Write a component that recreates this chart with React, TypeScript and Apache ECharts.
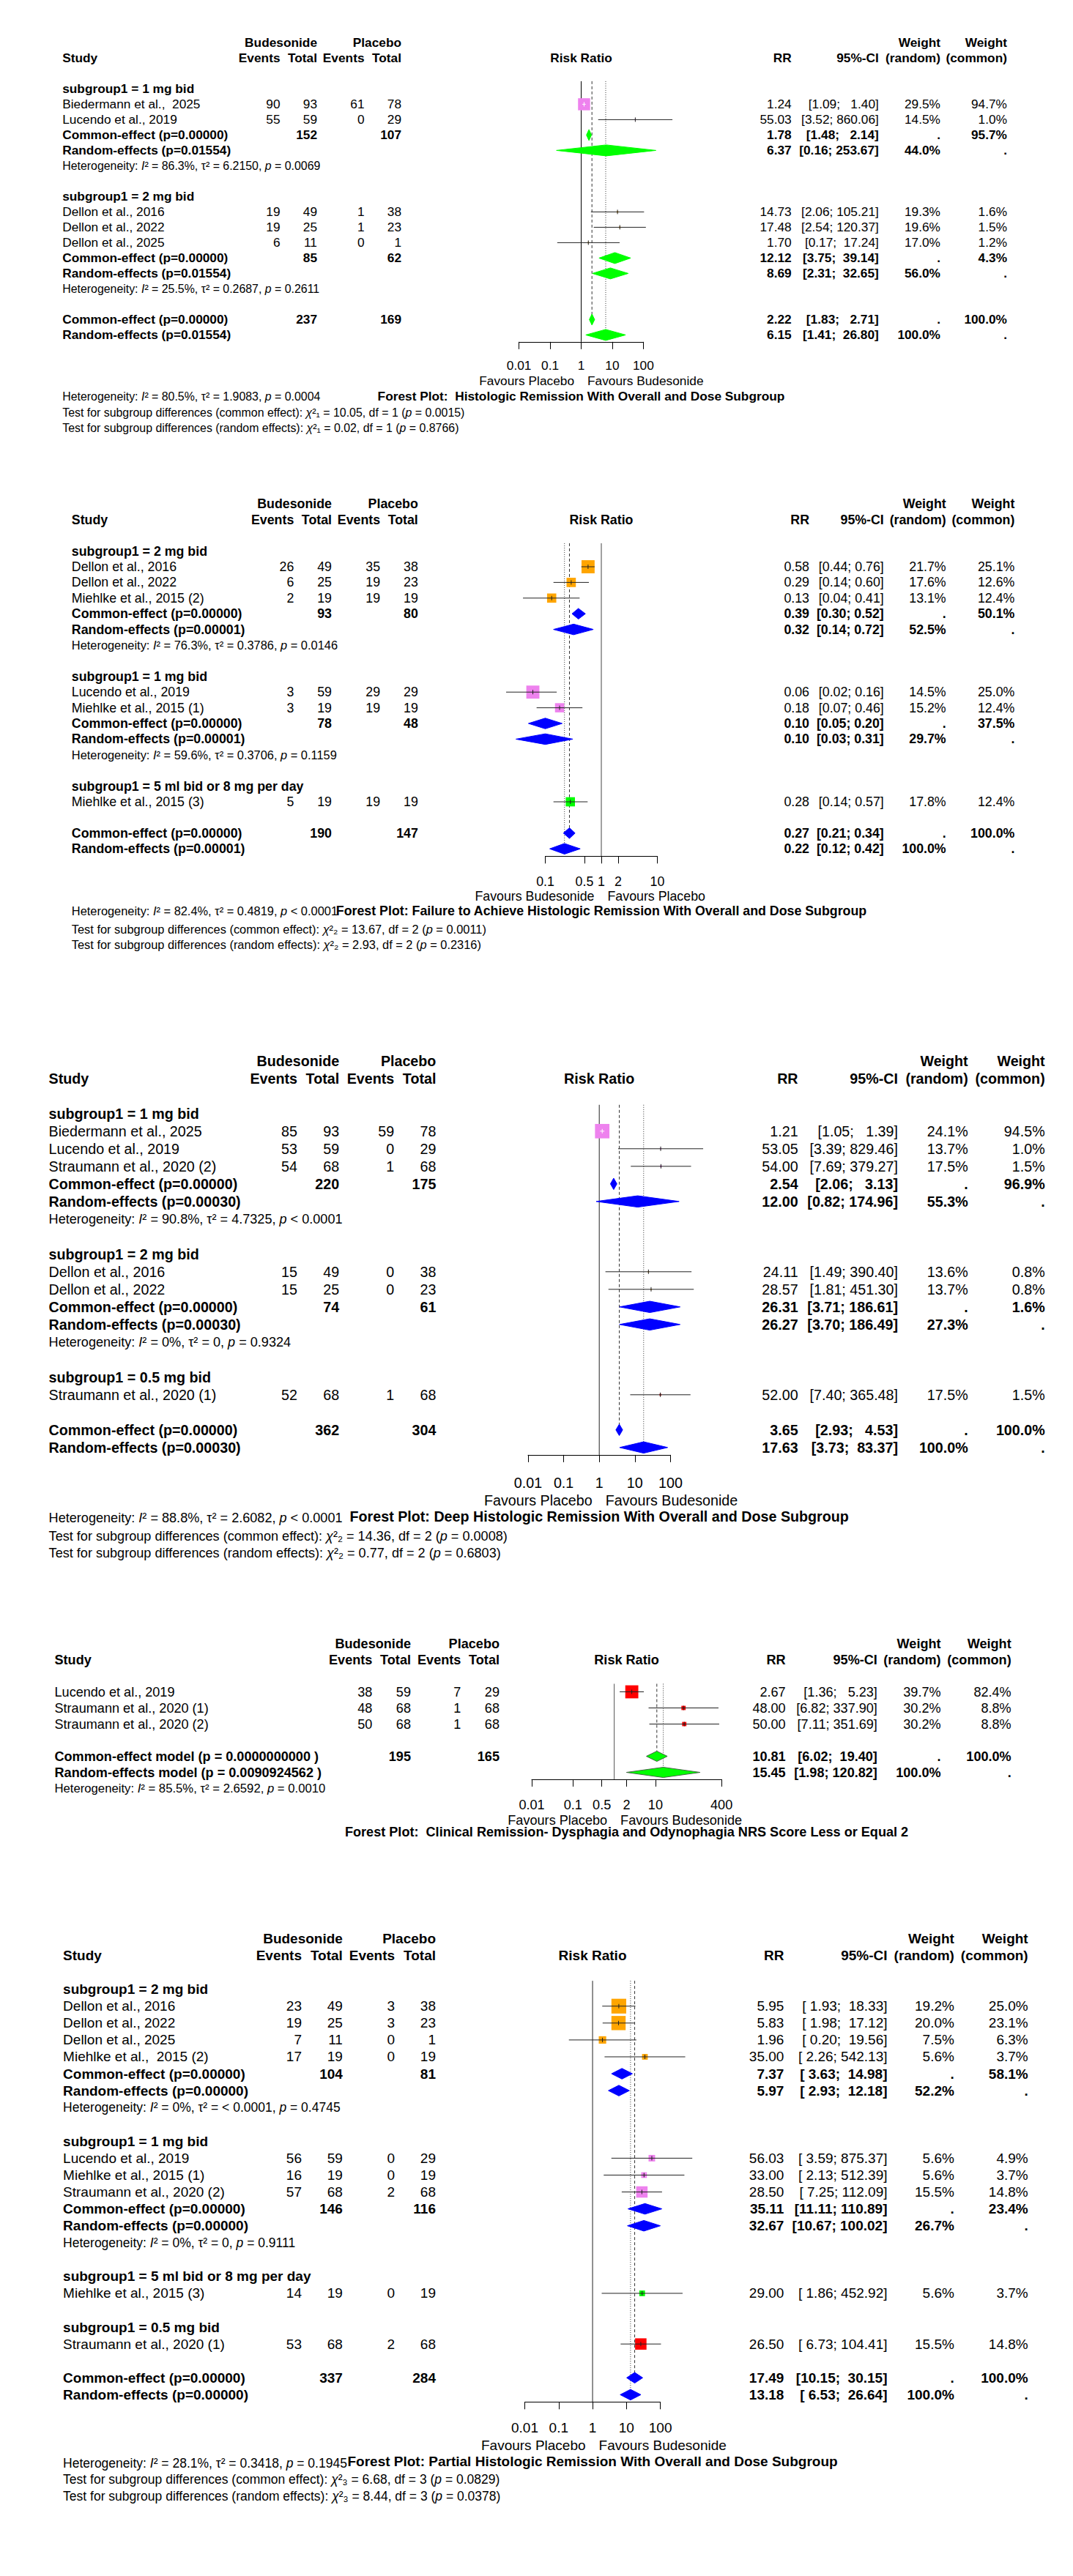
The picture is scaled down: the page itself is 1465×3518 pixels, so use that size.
import React, { useEffect, useRef } from 'react';
import * as echarts from 'echarts';

const FONT = '"Liberation Sans", Arial, Helvetica, sans-serif';
const N = null;

const headTop = ['Budesonide', 'Placebo', 'Weight', 'Weight'];
const headBottom = ['Study', 'Events', 'Total', 'Events', 'Total', 'Risk Ratio', 'RR', '95%-CI', '(random)', '(common)'];
const groupColors: any = { v: '#EE82EE', o: '#FFA500', g: '#00FF00', r: '#FF0000' };

// ================= Plot 1 =================
const p1Title = 'Forest Plot:  Histologic Remission With Overall and Dose Subgroup';
const p1Kind = ['sub', 'study', 'study', 'common', 'random', 'het', 'blank', 'sub', 'study', 'study', 'study', 'common', 'random', 'het', 'blank', 'common', 'random'];
const p1Label = [
  'subgroup1 = 1 mg bid', 'Biedermann et al.,  2025', 'Lucendo et al., 2019',
  'Common-effect (p=0.00000)', 'Random-effects (p=0.01554)',
  'Heterogeneity: I² = 86.3%, τ² = 6.2150, p = 0.0069', '',
  'subgroup1 = 2 mg bid', 'Dellon et al., 2016', 'Dellon et al., 2022', 'Dellon et al., 2025',
  'Common-effect (p=0.00000)', 'Random-effects (p=0.01554)',
  'Heterogeneity: I² = 25.5%, τ² = 0.2687, p = 0.2611', '',
  'Common-effect (p=0.00000)', 'Random-effects (p=0.01554)',
];
const p1EvB = [N, 90, 55, N, N, N, N, N, 19, 19, 6, N, N, N, N, N, N];
const p1TotB = [N, 93, 59, 152, N, N, N, N, 49, 25, 11, 85, N, N, N, 237, N];
const p1EvP = [N, 61, 0, N, N, N, N, N, 1, 1, 0, N, N, N, N, N, N];
const p1TotP = [N, 78, 29, 107, N, N, N, N, 38, 23, 1, 62, N, N, N, 169, N];
const p1RR = [N, 1.24, 55.03, 1.78, 6.37, N, N, N, 14.73, 17.48, 1.70, 12.12, 8.69, N, N, 2.22, 6.15];
const p1Lo = [N, 1.09, 3.52, 1.48, 0.16, N, N, N, 2.06, 2.54, 0.17, 3.75, 2.31, N, N, 1.83, 1.41];
const p1Hi = [N, 1.40, 860.06, 2.14, 253.67, N, N, N, 105.21, 120.37, 17.24, 39.14, 32.65, N, N, 2.71, 26.80];
const p1WRand = [N, 29.5, 14.5, N, 44.0, N, N, N, 19.3, 19.6, 17.0, N, 56.0, N, N, N, 100.0];
const p1WComm = [N, 94.7, 1.0, 95.7, N, N, N, N, 1.6, 1.5, 1.2, 4.3, N, N, N, 100.0, N];
const p1Group = ['', 'v', 'v', '', '', '', '', '', 'o', 'o', 'o', '', '', '', '', '', ''];
const p1Ticks = [0.01, 0.1, 1, 10, 100];
const p1TickLabels = ['0.01', '0.1', '1', '10', '100'];
const p1Favours = ['Favours Placebo', 'Favours Budesonide'];
const p1Footer = [
  'Heterogeneity: I² = 80.5%, τ² = 1.9083, p = 0.0004',
  'Test for subgroup differences (common effect): χ²₁ = 10.05, df = 1 (p = 0.0015)',
  'Test for subgroup differences (random effects): χ²₁ = 0.02, df = 1 (p = 0.8766)',
];

// ================= Plot 2 =================
const p2Title = 'Forest Plot: Failure to Achieve Histologic Remission With Overall and Dose Subgroup';
const p2Kind = ['sub', 'study', 'study', 'study', 'common', 'random', 'het', 'blank', 'sub', 'study', 'study', 'common', 'random', 'het', 'blank', 'sub', 'study', 'blank', 'common', 'random'];
const p2Label = [
  'subgroup1 = 2 mg bid', 'Dellon et al., 2016', 'Dellon et al., 2022', 'Miehlke et al., 2015 (2)',
  'Common-effect (p=0.00000)', 'Random-effects (p=0.00001)',
  'Heterogeneity: I² = 76.3%, τ² = 0.3786, p = 0.0146', '',
  'subgroup1 = 1 mg bid', 'Lucendo et al., 2019', 'Miehlke et al., 2015 (1)',
  'Common-effect (p=0.00000)', 'Random-effects (p=0.00001)',
  'Heterogeneity: I² = 59.6%, τ² = 0.3706, p = 0.1159', '',
  'subgroup1 = 5 ml bid or 8 mg per day', 'Miehlke et al., 2015 (3)', '',
  'Common-effect (p=0.00000)', 'Random-effects (p=0.00001)',
];
const p2EvB = [N, 26, 6, 2, N, N, N, N, N, 3, 3, N, N, N, N, N, 5, N, N, N];
const p2TotB = [N, 49, 25, 19, 93, N, N, N, N, 59, 19, 78, N, N, N, N, 19, N, 190, N];
const p2EvP = [N, 35, 19, 19, N, N, N, N, N, 29, 19, N, N, N, N, N, 19, N, N, N];
const p2TotP = [N, 38, 23, 19, 80, N, N, N, N, 29, 19, 48, N, N, N, N, 19, N, 147, N];
const p2RR = [N, 0.58, 0.29, 0.13, 0.39, 0.32, N, N, N, 0.06, 0.18, 0.10, 0.10, N, N, N, 0.28, N, 0.27, 0.22];
const p2Lo = [N, 0.44, 0.14, 0.04, 0.30, 0.14, N, N, N, 0.02, 0.07, 0.05, 0.03, N, N, N, 0.14, N, 0.21, 0.12];
const p2Hi = [N, 0.76, 0.60, 0.41, 0.52, 0.72, N, N, N, 0.16, 0.46, 0.20, 0.31, N, N, N, 0.57, N, 0.34, 0.42];
const p2WRand = [N, 21.7, 17.6, 13.1, N, 52.5, N, N, N, 14.5, 15.2, N, 29.7, N, N, N, 17.8, N, N, 100.0];
const p2WComm = [N, 25.1, 12.6, 12.4, 50.1, N, N, N, N, 25.0, 12.4, 37.5, N, N, N, N, 12.4, N, 100.0, N];
const p2Group = ['', 'o', 'o', 'o', '', '', '', '', '', 'v', 'v', '', '', '', '', '', 'g', '', '', ''];
const p2Ticks = [0.1, 0.5, 1, 2, 10];
const p2TickLabels = ['0.1', '0.5', '1', '2', '10'];
const p2Favours = ['Favours Budesonide', 'Favours Placebo'];
const p2Footer = [
  'Heterogeneity: I² = 82.4%, τ² = 0.4819, p < 0.0001',
  'Test for subgroup differences (common effect): χ²₂ = 13.67, df = 2 (p = 0.0011)',
  'Test for subgroup differences (random effects): χ²₂ = 2.93, df = 2 (p = 0.2316)',
];

// ================= Plot 3 =================
const p3Title = 'Forest Plot: Deep Histologic Remission With Overall and Dose Subgroup';
const p3Kind = ['sub', 'study', 'study', 'study', 'common', 'random', 'het', 'blank', 'sub', 'study', 'study', 'common', 'random', 'het', 'blank', 'sub', 'study', 'blank', 'common', 'random'];
const p3Label = [
  'subgroup1 = 1 mg bid', 'Biedermann et al., 2025', 'Lucendo et al., 2019', 'Straumann et al., 2020 (2)',
  'Common-effect (p=0.00000)', 'Random-effects (p=0.00030)',
  'Heterogeneity: I² = 90.8%, τ² = 4.7325, p < 0.0001', '',
  'subgroup1 = 2 mg bid', 'Dellon et al., 2016', 'Dellon et al., 2022',
  'Common-effect (p=0.00000)', 'Random-effects (p=0.00030)',
  'Heterogeneity: I² = 0%, τ² = 0, p = 0.9324', '',
  'subgroup1 = 0.5 mg bid', 'Straumann et al., 2020 (1)', '',
  'Common-effect (p=0.00000)', 'Random-effects (p=0.00030)',
];
const p3EvB = [N, 85, 53, 54, N, N, N, N, N, 15, 15, N, N, N, N, N, 52, N, N, N];
const p3TotB = [N, 93, 59, 68, 220, N, N, N, N, 49, 25, 74, N, N, N, N, 68, N, 362, N];
const p3EvP = [N, 59, 0, 1, N, N, N, N, N, 0, 0, N, N, N, N, N, 1, N, N, N];
const p3TotP = [N, 78, 29, 68, 175, N, N, N, N, 38, 23, 61, N, N, N, N, 68, N, 304, N];
const p3RR = [N, 1.21, 53.05, 54.00, 2.54, 12.00, N, N, N, 24.11, 28.57, 26.31, 26.27, N, N, N, 52.00, N, 3.65, 17.63];
const p3Lo = [N, 1.05, 3.39, 7.69, 2.06, 0.82, N, N, N, 1.49, 1.81, 3.71, 3.70, N, N, N, 7.40, N, 2.93, 3.73];
const p3Hi = [N, 1.39, 829.46, 379.27, 3.13, 174.96, N, N, N, 390.40, 451.30, 186.61, 186.49, N, N, N, 365.48, N, 4.53, 83.37];
const p3WRand = [N, 24.1, 13.7, 17.5, N, 55.3, N, N, N, 13.6, 13.7, N, 27.3, N, N, N, 17.5, N, N, 100.0];
const p3WComm = [N, 94.5, 1.0, 1.5, 96.9, N, N, N, N, 0.8, 0.8, 1.6, N, N, N, N, 1.5, N, 100.0, N];
const p3Group = ['', 'v', 'v', 'v', '', '', '', '', '', 'o', 'o', '', '', '', '', '', 'r', '', '', ''];
const p3Ticks = [0.01, 0.1, 1, 10, 100];
const p3TickLabels = ['0.01', '0.1', '1', '10', '100'];
const p3Favours = ['Favours Placebo', 'Favours Budesonide'];
const p3Footer = [
  'Heterogeneity: I² = 88.8%, τ² = 2.6082, p < 0.0001',
  'Test for subgroup differences (common effect): χ²₂ = 14.36, df = 2 (p = 0.0008)',
  'Test for subgroup differences (random effects): χ²₂ = 0.77, df = 2 (p = 0.6803)',
];

// ================= Plot 4 =================
const p4Title = 'Forest Plot:  Clinical Remission- Dysphagia and Odynophagia NRS Score Less or Equal 2';
const p4Kind = ['study', 'study', 'study', 'blank', 'common', 'random', 'het'];
const p4Label = [
  'Lucendo et al., 2019', 'Straumann et al., 2020 (1)', 'Straumann et al., 2020 (2)', '',
  'Common-effect model (p = 0.0000000000 )', 'Random-effects model (p = 0.0090924562 )',
  'Heterogeneity: I² = 85.5%, τ² = 2.6592, p = 0.0010',
];
const p4EvB = [38, 48, 50, N, N, N, N];
const p4TotB = [59, 68, 68, N, 195, N, N];
const p4EvP = [7, 1, 1, N, N, N, N];
const p4TotP = [29, 68, 68, N, 165, N, N];
const p4RR = [2.67, 48.00, 50.00, N, 10.81, 15.45, N];
const p4Lo = [1.36, 6.82, 7.11, N, 6.02, 1.98, N];
const p4Hi = [5.23, 337.90, 351.69, N, 19.40, 120.82, N];
const p4WRand = [39.7, 30.2, 30.2, N, N, 100.0, N];
const p4WComm = [82.4, 8.8, 8.8, N, 100.0, N, N];
const p4Group = ['r', 'r', 'r', '', '', '', ''];
const p4Ticks = [0.01, 0.1, 0.5, 2, 10, 400];
const p4TickLabels = ['0.01', '0.1', '0.5', '2', '10', '400'];
const p4Favours = ['Favours Placebo', 'Favours Budesonide'];
const p4Footer: string[] = [];

// ================= Plot 5 =================
const p5Title = 'Forest Plot: Partial Histologic Remission With Overall and Dose Subgroup';
const p5Kind = ['sub', 'study', 'study', 'study', 'study', 'common', 'random', 'het', 'blank', 'sub', 'study', 'study', 'study', 'common', 'random', 'het', 'blank', 'sub', 'study', 'blank', 'sub', 'study', 'blank', 'common', 'random'];
const p5Label = [
  'subgroup1 = 2 mg bid', 'Dellon et al., 2016', 'Dellon et al., 2022', 'Dellon et al., 2025', 'Miehlke et al.,  2015 (2)',
  'Common-effect (p=0.00000)', 'Random-effects (p=0.00000)',
  'Heterogeneity: I² = 0%, τ² = < 0.0001, p = 0.4745', '',
  'subgroup1 = 1 mg bid', 'Lucendo et al., 2019', 'Miehlke et al., 2015 (1)', 'Straumann et al., 2020 (2)',
  'Common-effect (p=0.00000)', 'Random-effects (p=0.00000)',
  'Heterogeneity: I² = 0%, τ² = 0, p = 0.9111', '',
  'subgroup1 = 5 ml bid or 8 mg per day', 'Miehlke et al., 2015 (3)', '',
  'subgroup1 = 0.5 mg bid', 'Straumann et al., 2020 (1)', '',
  'Common-effect (p=0.00000)', 'Random-effects (p=0.00000)',
];
const p5EvB = [N, 23, 19, 7, 17, N, N, N, N, N, 56, 16, 57, N, N, N, N, N, 14, N, N, 53, N, N, N];
const p5TotB = [N, 49, 25, 11, 19, 104, N, N, N, N, 59, 19, 68, 146, N, N, N, N, 19, N, N, 68, N, 337, N];
const p5EvP = [N, 3, 3, 0, 0, N, N, N, N, N, 0, 0, 2, N, N, N, N, N, 0, N, N, 2, N, N, N];
const p5TotP = [N, 38, 23, 1, 19, 81, N, N, N, N, 29, 19, 68, 116, N, N, N, N, 19, N, N, 68, N, 284, N];
const p5RR = [N, 5.95, 5.83, 1.96, 35.00, 7.37, 5.97, N, N, N, 56.03, 33.00, 28.50, 35.11, 32.67, N, N, N, 29.00, N, N, 26.50, N, 17.49, 13.18];
const p5Lo = [N, 1.93, 1.98, 0.20, 2.26, 3.63, 2.93, N, N, N, 3.59, 2.13, 7.25, 11.11, 10.67, N, N, N, 1.86, N, N, 6.73, N, 10.15, 6.53];
const p5Hi = [N, 18.33, 17.12, 19.56, 542.13, 14.98, 12.18, N, N, N, 875.37, 512.39, 112.09, 110.89, 100.02, N, N, N, 452.92, N, N, 104.41, N, 30.15, 26.64];
const p5WRand = [N, 19.2, 20.0, 7.5, 5.6, N, 52.2, N, N, N, 5.6, 5.6, 15.5, N, 26.7, N, N, N, 5.6, N, N, 15.5, N, N, 100.0];
const p5WComm = [N, 25.0, 23.1, 6.3, 3.7, 58.1, N, N, N, N, 4.9, 3.7, 14.8, 23.4, N, N, N, N, 3.7, N, N, 14.8, N, 100.0, N];
const p5Group = ['', 'o', 'o', 'o', 'o', '', '', '', '', '', 'v', 'v', 'v', '', '', '', '', '', 'g', '', '', 'r', '', '', ''];
const p5Ticks = [0.01, 0.1, 1, 10, 100];
const p5TickLabels = ['0.01', '0.1', '1', '10', '100'];
const p5Favours = ['Favours Placebo', 'Favours Budesonide'];
const p5Footer = [
  'Heterogeneity: I² = 28.1%, τ² = 0.3418, p = 0.1945',
  'Test for subgroup differences (common effect): χ²₃ = 6.68, df = 3 (p = 0.0829)',
  'Test for subgroup differences (random effects): χ²₃ = 8.44, df = 3 (p = 0.0378)',
];

const plots: any[] = [
  { kind: p1Kind, label: p1Label, evB: p1EvB, totB: p1TotB, evP: p1EvP, totP: p1TotP, rr: p1RR, lo: p1Lo, hi: p1Hi, wr: p1WRand, wc: p1WComm, group: p1Group, ticks: p1Ticks, tickLabels: p1TickLabels, favours: p1Favours, footer: p1Footer, title: p1Title },
  { kind: p2Kind, label: p2Label, evB: p2EvB, totB: p2TotB, evP: p2EvP, totP: p2TotP, rr: p2RR, lo: p2Lo, hi: p2Hi, wr: p2WRand, wc: p2WComm, group: p2Group, ticks: p2Ticks, tickLabels: p2TickLabels, favours: p2Favours, footer: p2Footer, title: p2Title },
  { kind: p3Kind, label: p3Label, evB: p3EvB, totB: p3TotB, evP: p3EvP, totP: p3TotP, rr: p3RR, lo: p3Lo, hi: p3Hi, wr: p3WRand, wc: p3WComm, group: p3Group, ticks: p3Ticks, tickLabels: p3TickLabels, favours: p3Favours, footer: p3Footer, title: p3Title },
  { kind: p4Kind, label: p4Label, evB: p4EvB, totB: p4TotB, evP: p4EvP, totP: p4TotP, rr: p4RR, lo: p4Lo, hi: p4Hi, wr: p4WRand, wc: p4WComm, group: p4Group, ticks: p4Ticks, tickLabels: p4TickLabels, favours: p4Favours, footer: p4Footer, title: p4Title },
  { kind: p5Kind, label: p5Label, evB: p5EvB, totB: p5TotB, evP: p5EvP, totP: p5TotP, rr: p5RR, lo: p5Lo, hi: p5Hi, wr: p5WRand, wc: p5WComm, group: p5Group, ticks: p5Ticks, tickLabels: p5TickLabels, favours: p5Favours, footer: p5Footer, title: p5Title },
];

// layout (pixels)
const layouts: any[] = [
  { row0: 121.4, rowH: 21.0, fs: 17.3, left: 708.6, width: 169.8, min: 0.01, max: 100, axisRow: 16.45,
    cols: { study: 85.2, evB: 382.5, totB: 433, evP: 497.5, totP: 548, rr: 1080.7, ci: 1199.8, wr: 1284, wc: 1375 },
    boxMax: 16.5, diamondH: 15, labelMargin: 23.5, favOff: 53.2, titleOff: 74.2, footOffs: [74.2, 97, 117.2],
    refColor: '#000', dFill: '#00FF00', dStroke: '#00FF00' },
  { row0: 752.6, rowH: 21.4, fs: 17.8, left: 744.5, width: 153, min: 0.1, max: 10, axisRow: 19.47,
    cols: { study: 97.8, evB: 401.3, totB: 453, evP: 519.1, totP: 570.8, rr: 1105, ci: 1206.8, wr: 1291.7, wc: 1385.4 },
    boxMax: 17.9, diamondH: 14.5, labelMargin: 25.3, favOff: 55.1, titleOff: 75, footOffs: [75, 99.5, 121],
    refColor: '#444', dFill: '#0000FF', dStroke: '#0000FF' },
  { row0: 1520.8, rowH: 24.0, fs: 19.7, left: 721, width: 194.4, min: 0.01, max: 100, axisRow: 19.42,
    cols: { study: 66.6, evB: 406, totB: 463.2, evP: 538.2, totP: 595.4, rr: 1089.6, ci: 1226, wr: 1321.7, wc: 1426.7 },
    boxMax: 19.7, diamondH: 15.5, labelMargin: 28.2, favOff: 61.7, titleOff: 84.5, footOffs: [86, 110.8, 134.4],
    refColor: '#222', dFill: '#0000FF', dStroke: '#0000FF' },
  { row0: 2310.5, rowH: 22.0, fs: 18.1, left: 726, width: 259.1, min: 0.01, max: 400, axisRow: 5.43,
    cols: { study: 74.5, evB: 508.4, totB: 561, evP: 629.4, totP: 682, rr: 1072.7, ci: 1197.9, wr: 1284.6, wc: 1380.7 },
    boxMax: 17.8, diamondH: 14, labelMargin: 26, favOff: 56, titleOff: 72, footOffs: [],
    refColor: '#555', dFill: '#00FF00', dStroke: '#446644' },
  { row0: 2716.7, rowH: 23.07, fs: 19.0, left: 716.5, width: 185.1, min: 0.01, max: 100, axisRow: 24.43,
    cols: { study: 86.1, evB: 412, totB: 467.9, evP: 539.1, totP: 595, rr: 1070.4, ci: 1211.5, wr: 1302.9, wc: 1403.7 },
    boxMax: 20.2, diamondH: 14.5, labelMargin: 26.1, favOff: 59.1, titleOff: 80.7, footOffs: [83.7, 106, 128.7],
    refColor: '#222', dFill: '#0000FF', dStroke: '#0000FF' },
];

function keep(s: string) {
  return s.replace(/ {2,}/g, (m) => '\u00A0'.repeat(m.length));
}
function richify(s: string) {
  return keep(s).replace(/(I(?=²)|(?<![A-Za-z])p(?=\s[=<])|χ)/g, '{i|$1}');
}

function buildSeries(P: any, L: any, gi: number) {
  const vals = (a: any[]) => a.filter((v) => v != null) as number[];
  const loW = Math.max(...vals(P.lo).map((v) => v.toFixed(2).length));
  const hiW = Math.max(...vals(P.hi).map((v) => v.toFixed(2).length));
  const ciStr = (lo: number, hi: number) =>
    '[' + lo.toFixed(2).padStart(loW, ' ') + '; ' + hi.toFixed(2).padStart(hiW, ' ') + ']';
  const maxWc = Math.max(...P.wc.filter((v: any, i: number) => v != null && P.kind[i] === 'study'));
  const n = P.kind.length;
  return {
    type: 'custom',
    xAxisIndex: gi,
    yAxisIndex: gi,
    silent: true,
    clip: false,
    data: Array.from({ length: n + 1 }, () => [1, 0]),
    renderItem: (params: any, api: any) => {
      const idx = params.dataIndex;
      const fs = L.fs;
      const hs = +(fs * 0.92).toFixed(1);
      const rich = { i: { fontStyle: 'italic', fontSize: hs, fontFamily: FONT, fill: '#000' } };
      const Y = (r: number) => api.coord([1, r])[1];
      const X = (v: number) => api.coord([v, 1])[0];
      const C = L.cols;
      const kids: any[] = [];
      const text = (s: string, x: number, y: number, align: string, bold: boolean, size = fs, r = false) => {
        kids.push({
          type: 'text',
          style: {
            text: r ? richify(s) : keep(s), x, y, align, verticalAlign: 'middle',
            fontSize: size, fontWeight: bold ? 'bold' : 'normal', fontFamily: FONT, fill: '#000',
            rich: r ? rich : undefined,
          },
        });
      };
      const seg = (x1: number, y1: number, x2: number, y2: number, color: string, dash?: number[]) => {
        kids.push({ type: 'line', shape: { x1, y1, x2, y2 }, style: { stroke: color, lineWidth: 1, lineDash: dash } });
      };
      if (idx === 0) {
        const top = Y(-0.5);
        const axisY = Y(L.axisRow);
        seg(X(1), top, X(1), axisY, L.refColor);
        const ci = P.kind.lastIndexOf('common');
        const ri = P.kind.lastIndexOf('random');
        seg(X(P.rr[ci]), top, X(P.rr[ci]), Y(ci), '#333', [4, 3]);
        seg(X(P.rr[ri]), top, X(P.rr[ri]), Y(ri), '#333', [1, 2]);
        const y3 = Y(-3);
        const y2 = Y(-2);
        const cx = L.left + L.width / 2;
        text(headTop[0], C.totB, y3, 'right', true);
        text(headTop[1], C.totP, y3, 'right', true);
        text(headTop[2], C.wr, y3, 'right', true);
        text(headTop[3], C.wc, y3, 'right', true);
        text(headBottom[0], C.study, y2, 'left', true);
        text(headBottom[1], C.evB, y2, 'right', true);
        text(headBottom[2], C.totB, y2, 'right', true);
        text(headBottom[3], C.evP, y2, 'right', true);
        text(headBottom[4], C.totP, y2, 'right', true);
        text(headBottom[5], cx, y2, 'center', true);
        text(headBottom[6], C.rr, y2, 'right', true);
        text(headBottom[7], C.ci, y2, 'right', true);
        text(headBottom[8], C.wr, y2, 'right', true);
        text(headBottom[9], C.wc, y2, 'right', true);
        text(P.favours[0], X(1) - 9.5, axisY + L.favOff, 'right', false);
        text(P.favours[1], X(1) + 8.5, axisY + L.favOff, 'left', false);
        text(P.title, cx, axisY + L.titleOff, 'center', true);
        P.footer.forEach((s: string, k: number) => text(s, C.study, axisY + L.footOffs[k], 'left', false, hs, true));
        return { type: 'group', children: kids };
      }
      const r = idx - 1;
      const k = P.kind[r];
      const y = Y(r);
      if (k === 'blank') return { type: 'group', children: [] };
      if (k === 'het') {
        text(P.label[r], C.study, y, 'left', false, hs, true);
        return { type: 'group', children: kids };
      }
      if (k === 'sub') {
        text(P.label[r], C.study, y, 'left', true);
        return { type: 'group', children: kids };
      }
      const bold = k !== 'study';
      text(P.label[r], C.study, y, 'left', bold);
      if (P.evB[r] != null) text(String(P.evB[r]), C.evB, y, 'right', bold);
      if (P.totB[r] != null) text(String(P.totB[r]), C.totB, y, 'right', bold);
      if (P.evP[r] != null) text(String(P.evP[r]), C.evP, y, 'right', bold);
      if (P.totP[r] != null) text(String(P.totP[r]), C.totP, y, 'right', bold);
      text(P.rr[r].toFixed(2), C.rr, y, 'right', bold);
      text(ciStr(P.lo[r], P.hi[r]), C.ci, y, 'right', bold);
      text(P.wr[r] != null ? P.wr[r].toFixed(1) + '%' : '.', C.wr, y, 'right', bold);
      text(P.wc[r] != null ? P.wc[r].toFixed(1) + '%' : '.', C.wc, y, 'right', bold);
      const xe = X(P.rr[r]);
      const xl = X(P.lo[r]);
      const xh = X(P.hi[r]);
      if (k === 'study') {
        const side = Math.max(1.2, L.boxMax * Math.sqrt(P.wc[r] / maxWc));
        kids.push({ type: 'rect', shape: { x: xe - side / 2, y: y - side / 2, width: side, height: side }, style: { fill: groupColors[P.group[r]] } });
        const lc = xh - xl <= side ? '#ffffff' : '#222';
        seg(xl, y, xh, y, lc);
        seg(xe, y - 3, xe, y + 3, lc);
      } else {
        const h = L.diamondH / 2;
        kids.push({
          type: 'polygon',
          shape: { points: [[xl, y], [xe, y - h], [xh, y], [xe, y + h]] },
          style: { fill: L.dFill, stroke: L.dStroke, lineWidth: 1 },
        });
      }
      return { type: 'group', children: kids };
    },
  };
}

function buildOption() {
  const grid = layouts.map((L) => ({
    left: L.left, top: L.row0 - 0.5 * L.rowH, width: L.width, height: (L.axisRow + 0.5) * L.rowH,
    containLabel: false, outerBoundsMode: 'none',
  }));
  const xAxis = layouts.map((L, i) => {
    const P = plots[i];
    const fmt = (v: number) => {
      let best = 0;
      let bd = Infinity;
      P.ticks.forEach((t: number, j: number) => {
        const d = Math.abs(Math.log10(v) - Math.log10(t));
        if (d < bd) { bd = d; best = j; }
      });
      return P.tickLabels[best];
    };
    return {
      type: 'log', logBase: 10, gridIndex: i, min: L.min, max: L.max, position: 'bottom',
      axisLine: { show: true, onZero: false, lineStyle: { color: '#000', width: 1 } },
      axisTick: { show: true, customValues: P.ticks, length: 10, lineStyle: { color: '#000', width: 1 } },
      axisLabel: { show: true, customValues: P.ticks, formatter: fmt, margin: L.labelMargin, fontSize: L.fs, fontFamily: FONT, color: '#000' },
      splitLine: { show: false }, minorTick: { show: false }, minorSplitLine: { show: false },
    };
  });
  const yAxis = layouts.map((L, i) => ({
    type: 'value', gridIndex: i, inverse: true, min: -0.5, max: L.axisRow, show: false,
    axisLine: { show: false }, splitLine: { show: false },
  }));
  const series = layouts.map((L, i) => buildSeries(plots[i], L, i));
  return { animation: false, backgroundColor: '#ffffff', grid, xAxis, yAxis, series };
}

export default function App() {
  const ref = useRef<HTMLDivElement>(null);
  useEffect(() => {
    document.body.style.margin = '0';
    const chart = echarts.init(ref.current as HTMLDivElement, null, { renderer: 'svg', width: 1465, height: 3518 });
    chart.setOption(buildOption() as any);
    return () => chart.dispose();
  }, []);
  return <div ref={ref} style={{ width: 1465, height: 3518, background: '#fff' }} />;
}
